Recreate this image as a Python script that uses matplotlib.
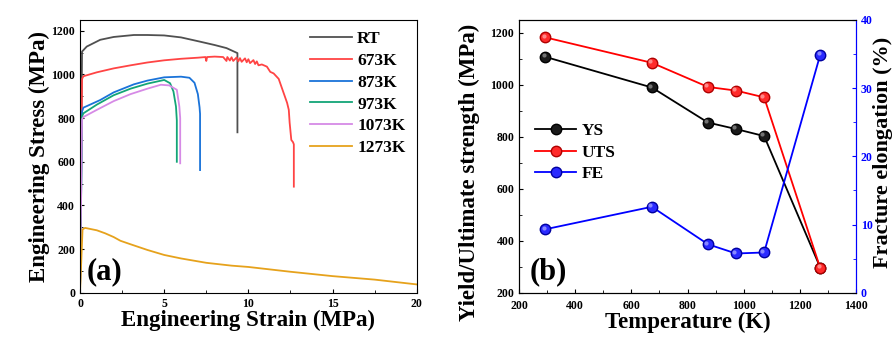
import matplotlib
matplotlib.use("Agg")
import matplotlib.pyplot as plt
import matplotlib.transforms as mtransforms
from matplotlib.ticker import MultipleLocator

plt.rcParams['font.family'] = ['Liberation Serif', 'DejaVu Serif']
plt.rcParams['font.weight'] = 'bold'

# ---- Panel (a): engineering stress-strain curves ----
rt_strain = [0, 0.12, 0.4, 1.2, 2.0, 3.2, 4.0, 5.0, 6.0, 7.1, 8.0, 8.7, 9.35, 9.35]
rt_stress = [0, 1105, 1128, 1159, 1172, 1181, 1181, 1179, 1170, 1151, 1135, 1121, 1098, 735]

k673_strain = [0, 0.12, 0.2, 1, 2, 3, 4, 5, 6, 7, 7.45, 7.5, 7.55, 8, 8.5, 8.7, 8.75, 8.9, 9.0,
               9.1, 9.3, 9.4, 9.5, 9.6, 9.8, 9.9, 10.0, 10.1, 10.3, 10.4, 10.5, 10.6, 10.8, 11.1,
               11.3, 11.5, 11.8, 12.1, 12.3, 12.4, 12.45, 12.5, 12.55, 12.65, 12.7, 12.7]
k673_stress = [0, 980, 992, 1010, 1028, 1042, 1055, 1065, 1072, 1077, 1080, 1062, 1080, 1082, 1080,
               1062, 1080, 1064, 1079, 1062, 1078, 1060, 1075, 1058, 1074, 1056, 1070, 1052, 1066,
               1048, 1060, 1042, 1046, 1036, 1012, 1005, 980, 914, 870, 838, 780, 740, 700, 690,
               680, 486]

k873_strain = [0, 0.12, 0.2, 1.2, 2, 3.2, 4, 5, 6, 6.5, 6.8, 7.0, 7.1, 7.13, 7.13]
k873_stress = [0, 830, 848, 883, 918, 955, 972, 987, 990, 985, 962, 910, 850, 820, 562]

k973_strain = [0, 0.12, 0.2, 1, 2, 3, 4, 5, 5.35, 5.55, 5.7, 5.75, 5.75]
k973_stress = [0, 808, 822, 862, 905, 935, 958, 975, 960, 922, 853, 790, 600]

k1073_strain = [0, 0.12, 0.2, 1, 2, 3, 4, 4.8, 5.3, 5.75, 5.9, 5.95, 5.95]
k1073_stress = [0, 795, 805, 838, 878, 910, 935, 953, 950, 930, 853, 800, 593]

k1273_strain = [0, 0.15, 0.3, 1.0, 1.5, 2.0, 2.4, 3, 4, 5, 6, 7.5, 9, 10, 12.5, 15, 17.5, 20]
k1273_stress = [0, 290, 297, 286, 272, 255, 238, 222, 196, 173, 157, 137, 124, 118, 96, 76, 60, 38]

curve_labels = ['RT', '673K', '873K', '973K', '1073K', '1273K']
curve_colors = ['#505050', '#ff4444', '#1a73d9', '#13a577', '#d68ae6', '#e6a21c']

# ---- Panel (b): properties vs temperature ----
temperature = [293, 673, 873, 973, 1073, 1273]
ys = [1108, 990, 855, 830, 803, 297]
uts = [1183, 1085, 992, 978, 952, 295]
fe = [9.3, 12.6, 7.1, 5.75, 5.9, 34.9]

fig = plt.figure(figsize=(8.92, 3.38), dpi=100)
ax1 = fig.add_axes([0.0897, 0.134, 0.3775, 0.807])
ax2 = fig.add_axes([0.582, 0.134, 0.3775, 0.807])

curves = [(rt_strain, rt_stress), (k673_strain, k673_stress), (k873_strain, k873_stress),
          (k973_strain, k973_stress), (k1073_strain, k1073_stress), (k1273_strain, k1273_stress)]
for (sx, sy), lab, col in zip(curves, curve_labels, curve_colors):
    ax1.plot(sx, sy, color=col, lw=1.3, label=lab)

ax1.set_xlim(0, 20)
ax1.set_ylim(0, 1250)
ax1.xaxis.set_major_locator(MultipleLocator(5))
ax1.xaxis.set_minor_locator(MultipleLocator(2.5))
ax1.yaxis.set_major_locator(MultipleLocator(200))
ax1.yaxis.set_minor_locator(MultipleLocator(100))
ax1.tick_params(which='both', direction='in', labelsize=8.5)
ax1.tick_params(which='major', length=3)
ax1.tick_params(which='minor', length=2)
ax1.set_xlabel('Engineering Strain (MPa)', fontsize=16.5, fontweight='bold', labelpad=0)
ax1.set_ylabel('Engineering Stress (MPa)', fontsize=16.5, fontweight='bold', labelpad=1)
ax1.text(0.4, 95, '(a)', fontsize=22, fontweight='bold', va='center', ha='left')
leg1 = ax1.legend(loc='upper right', frameon=False, fontsize=12.5, handlelength=2.4,
                  labelspacing=0.32, handletextpad=0.3, borderaxespad=0.25)
for t in leg1.get_texts():
    t.set_fontweight('bold')

# Panel (b)
ax3 = ax2.twinx()
ax3.set_position([0.582, 0.134, 0.3775, 0.807])

# small up-left offset used for the glossy highlight on the ball markers
hl_off = mtransforms.ScaledTranslation(-1.2 / 72, 1.2 / 72, fig.dpi_scale_trans)

ax2.plot(temperature, ys, color='black', lw=1.3, marker='o', ms=7.5,
         mfc='#1a1a1a', mec='#000000', label='YS')
ax2.plot(temperature, ys, ls='none', marker='o', ms=3, mfc='#8a8a8a', mec='none',
         alpha=0.8, transform=ax2.transData + hl_off)
ax2.plot(temperature, uts, color='#ff0000', lw=1.3, marker='o', ms=7.5,
         mfc='#ff2a2a', mec='#b00000', label='UTS')
ax2.plot(temperature, uts, ls='none', marker='o', ms=3, mfc='#ff9a9a', mec='none',
         alpha=0.85, transform=ax2.transData + hl_off)
ax3.plot(temperature, fe, color='#0000ff', lw=1.3, marker='o', ms=7.5,
         mfc='#2a2aff', mec='#0000a0', label='FE')
ax3.plot(temperature, fe, ls='none', marker='o', ms=3, mfc='#9a9aff', mec='none',
         alpha=0.85, transform=ax3.transData + hl_off)

ax2.set_xlim(200, 1400)
ax2.set_ylim(200, 1250)
ax3.set_ylim(0, 40)
ax2.xaxis.set_major_locator(MultipleLocator(200))
ax2.xaxis.set_minor_locator(MultipleLocator(100))
ax2.yaxis.set_major_locator(MultipleLocator(200))
ax2.yaxis.set_minor_locator(MultipleLocator(100))
ax3.yaxis.set_major_locator(MultipleLocator(10))
ax3.yaxis.set_minor_locator(MultipleLocator(5))
ax2.tick_params(which='both', direction='in', labelsize=8.5)
ax2.tick_params(axis='x', which='major', pad=5)
ax2.tick_params(which='major', length=3)
ax2.tick_params(which='minor', length=2)
ax3.tick_params(which='both', direction='in', labelsize=8.5, colors='#0000ff')
ax3.tick_params(which='major', length=3)
ax3.tick_params(which='minor', length=2)
ax3.spines['right'].set_color('#0000ff')
ax2.spines['right'].set_color('#0000ff')

ax2.set_xlabel('Temperature (K)', fontsize=16.5, fontweight='bold', labelpad=0)
ax2.set_ylabel('Yield/Ultimate strength (MPa)', fontsize=16.5, fontweight='bold')
ax2.yaxis.set_label_coords(-0.117, 0.44)
ax3.set_ylabel('Fracture elongation (%)', fontsize=16, fontweight='bold', color='black')
ax3.yaxis.set_label_coords(1.05, 0.515)
ax2.text(238, 280, '(b)', fontsize=22, fontweight='bold', va='center', ha='left')

h2, l2 = ax2.get_legend_handles_labels()
h3, l3 = ax3.get_legend_handles_labels()
leg2 = ax2.legend(h2 + h3, l2 + l3, loc='upper left', bbox_to_anchor=(0.0, 0.68),
                  frameon=False, fontsize=12.5, handlelength=2.4, labelspacing=0.32,
                  handletextpad=0.3)
for t in leg2.get_texts():
    t.set_fontweight('bold')

fig.savefig('out.png', dpi=100)
